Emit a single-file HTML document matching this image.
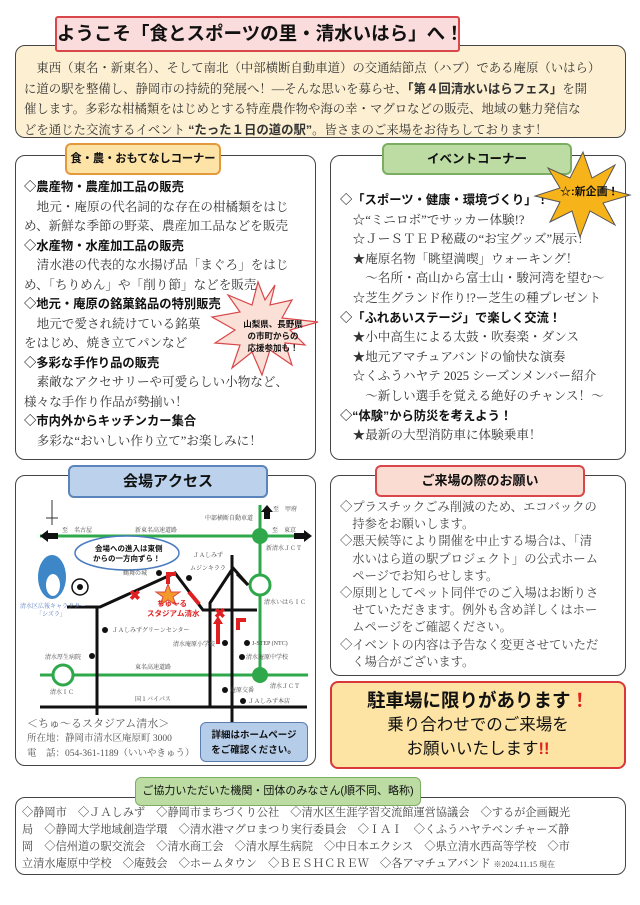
<!DOCTYPE html>
<html><head><meta charset="utf-8">
<style>
*{margin:0;padding:0;box-sizing:border-box}
body{width:640px;height:905px;background:#fff;position:relative;overflow:hidden;font-family:"Liberation Serif","Noto Serif CJK SC",serif;color:#333}
.abs{position:absolute}
.box{position:absolute;border:1.5px solid #444;border-radius:10px;background:#fff}
.tab{position:absolute;border-radius:6px;font-family:"Liberation Sans","Noto Sans CJK JP",sans-serif;font-weight:bold;text-align:center;color:#111;white-space:nowrap;overflow:hidden}
.l{position:absolute;white-space:nowrap;font-size:12.5px}
.h{font-family:"Liberation Sans","Noto Sans CJK JP",sans-serif;font-weight:bold;color:#111;font-size:12.3px}
.g{font-family:"Liberation Sans","Noto Sans CJK JP",sans-serif}
</style></head><body>

<!-- intro -->
<div class="box" style="left:15px;top:45px;width:611px;height:93px;background:#fdf0d2"></div>
<div class="tab" style="left:55px;top:16px;width:405px;height:36px;background:#fadcdc;border:2px solid #d9474a;font-size:18.5px;line-height:32px;border-radius:3px">ようこそ「食とスポーツの里・清水いはら」へ！</div>
<div class="l" style="left:24px;top:58px;line-height:20.5px;font-size:12.4px">
<div>　東西（東名・新東名）、そして南北（中部横断自動車道）の交通結節点（ハブ）である庵原（いはら）</div>
<div>に道の駅を整備し、静岡市の持続的発展へ！―そんな思いを募らせ、<b class="g">「第４回清水いはらフェス」</b>を開</div>
<div>催します。多彩な柑橘類をはじめとする特産農作物や海の幸・マグロなどの販売、地域の魅力発信な</div>
<div>どを通じた交流するイベント <b class="g">“たった１日の道の駅”</b>。皆さまのご来場をお待ちしております！</div>
</div>

<!-- left box -->
<div class="box" style="left:15px;top:155px;width:301px;height:305px"></div>
<div class="tab" style="left:65px;top:143px;width:156px;height:32px;background:#fde3a6;border:2px solid #e49a3c;font-size:11.2px;line-height:28px">食・農・おもてなしコーナー</div>
<div class="l" style="left:24px;top:178px;line-height:19.5px;font-size:12.6px">
<div class="h">◇農産物・農産加工品の販売</div>
<div>　地元・庵原の代名詞的な存在の柑橘類をはじ</div>
<div>め、新鮮な季節の野菜、農産加工品などを販売</div>
<div class="h">◇水産物・水産加工品の販売</div>
<div>　清水港の代表的な水揚げ品「まぐろ」をはじ</div>
<div>め、「ちりめん」や「削り節」などを販売</div>
<div class="h">◇地元・庵原の銘菓銘品の特別販売</div>
<div>　地元で愛され続けている銘菓</div>
<div>をはじめ、焼き立てパンなど</div>
<div class="h">◇多彩な手作り品の販売</div>
<div>　素敵なアクセサリーや可愛らしい小物など、</div>
<div>様々な手作り作品が勢揃い！</div>
<div class="h">◇市内外からキッチンカー集合</div>
<div>　多彩な“おいしい作り立て”お楽しみに！</div>
</div>

<!-- right box -->
<div class="box" style="left:330px;top:155px;width:296px;height:305px"></div>
<div class="tab" style="left:382px;top:143px;width:190px;height:32px;background:#bcdca4;border:2px solid #7cae62;font-size:12.5px;line-height:28px">イベントコーナー</div>
<div class="l" style="left:340px;top:191px;line-height:19.6px;font-size:12.6px">
<div class="h">◇「スポーツ・健康・環境づくり」！</div>
<div>　☆“ミニロボ”でサッカー体験!?</div>
<div>　☆ＪーＳＴＥＰ秘蔵の“お宝グッズ”展示！</div>
<div>　★庵原名物「眺望満喫」ウォーキング！</div>
<div>　　～名所・高山から富士山・駿河湾を望む～</div>
<div>　☆芝生グランド作り!?ー芝生の種プレゼント</div>
<div class="h">◇「ふれあいステージ」で楽しく交流！</div>
<div>　★小中高生による太鼓・吹奏楽・ダンス</div>
<div>　★地元アマチュアバンドの愉快な演奏</div>
<div>　☆くふうハヤテ 2025 シーズンメンバー紹介</div>
<div>　　～新しい選手を覚える絶好のチャンス！～</div>
<div class="h">◇“体験”から防災を考えよう！</div>
<div>　★最新の大型消防車に体験乗車！</div>
</div>

<!-- bursts -->
<svg class="abs" style="left:0;top:0" width="640" height="905">
<polygon points="583,152 592,178 615,165 603,188 630,195 603,203 615,225 590,211 580,237 572,211 550,222 560,202 535,196 560,188 548,168 570,178" fill="#f7b41a" stroke="#555" stroke-width="1"/>
<polygon points="275,285 270,305 292,300 282,318 318,322 290,330 305,345 285,343 292,365 270,350 262,375 252,352 232,368 240,345 215,343 235,330 212,317 240,312 228,295 252,305 258,282 265,300" fill="#fbe0d8" stroke="#d9474a" stroke-width="1.2"/>
</svg>
<div class="abs g" style="left:560px;top:183px;font-size:11px;font-weight:bold;color:#111">☆:新企画！</div>
<div class="abs g" style="left:238px;top:318px;width:70px;text-align:center;font-size:8.5px;font-weight:bold;line-height:12px;color:#111">山梨県、長野県<br>の市町からの<br>応援参加も！</div>

<!-- map box -->
<div class="box" style="left:15px;top:475px;width:301px;height:291px"></div>
<div class="tab" style="left:68px;top:465px;width:200px;height:33px;background:#bcd2ec;border:2px solid #5a84ba;font-size:15px;line-height:29px">会場アクセス</div>
<svg class="abs" style="left:0;top:0" width="640" height="905">
<g stroke="#2ea84a" stroke-width="3" fill="none">
<line x1="40" y1="536" x2="308" y2="536"/>
<line x1="40" y1="675" x2="308" y2="675"/>
<line x1="260" y1="505" x2="260" y2="675"/>
</g>
<circle cx="260" cy="536" r="8" fill="#2ea84a"/>
<circle cx="260" cy="675" r="8" fill="#2ea84a"/>
<circle cx="260" cy="585" r="10" fill="#fff" stroke="#2ea84a" stroke-width="3"/>
<circle cx="63" cy="675" r="10" fill="#fff" stroke="#2ea84a" stroke-width="3"/>
<g stroke="#111" stroke-width="3" fill="none">
<line x1="40" y1="707" x2="307" y2="707"/>
<polyline points="67,607 100,607 175,573 203,610 257,610"/>
<line x1="97" y1="607" x2="97" y2="715"/>
<polyline points="210,707 210,603 233,568 248,585"/>
<line x1="232" y1="555" x2="232" y2="760"/>
<line x1="248" y1="585" x2="237" y2="574"/>
</g>
<line x1="52" y1="500" x2="52" y2="525" stroke="#333"/><line x1="46" y1="518" x2="58" y2="518" stroke="#333"/>
<polygon points="40,536 48,530 48,542" fill="#111"/><rect x="48" y="533" width="10" height="6" fill="#111"/>
<polygon points="312,536 304,530 304,542" fill="#111"/><rect x="294" y="533" width="10" height="6" fill="#111"/>
<polygon points="267,505 261,512 273,512" fill="#111"/><rect x="264" y="512" width="6" height="7" fill="#111"/>
<ellipse cx="127" cy="553" rx="52" ry="17" fill="#fff" stroke="#4a7cc0" stroke-width="1.5"/>
<ellipse cx="52" cy="577" rx="14" ry="22" fill="#3d86c8"/><ellipse cx="53" cy="585" rx="7" ry="11" fill="#fff"/>
<circle cx="80" cy="587" r="8" fill="#fff" stroke="#111" stroke-width="1.5"/><circle cx="80" cy="587" r="3" fill="#111"/>
<polygon points="168,584 171,592 180,592 173,597 176,605 168,600 160,605 163,597 156,592 165,592" fill="#f39a2a" stroke="#d9474a"/>
<g fill="#e02020" font-size="14" font-weight="bold" font-family="Liberation Sans,sans-serif"><text x="129" y="600">✖</text><text x="214" y="618">✖</text></g>
<g fill="#e02020"><rect x="216" y="622" width="4" height="22"/><polygon points="213,624 218,616 223,624"/>
<rect x="192" y="590" width="4" height="16" transform="rotate(-40 194 598)"/>
<rect x="166" y="572" width="4" height="12"/><rect x="166" y="572" width="10" height="4"/>
<rect x="236" y="618" width="10" height="4"/><rect x="236" y="618" width="4" height="12"/></g>
<g fill="#111"><circle cx="159" cy="573" r="3"/><circle cx="189" cy="578" r="3"/><circle cx="105" cy="630" r="3"/><circle cx="92" cy="656" r="3"/><circle cx="225" cy="643" r="3"/><circle cx="247" cy="643" r="3"/><circle cx="242" cy="657" r="3"/><circle cx="225" cy="690" r="3"/><circle cx="243" cy="701" r="3"/></g>
<g font-size="6" fill="#444" font-family="Liberation Serif,Noto Serif CJK SC,serif">
<text x="62" y="532">至　名古屋</text><text x="135" y="532">新東名高速道路</text><text x="273" y="511">至　甲府</text><text x="205" y="520">中部横断自動車道</text>
<text x="272" y="532">至　東京</text><text x="266" y="550">新清水ＪＣＴ</text><text x="193" y="557">ＪＡしみず</text><text x="190" y="570">ムジンキララ</text>
<text x="123" y="575">鶴舞の城</text><text x="264" y="604">清水いはらＩＣ</text><text x="112" y="632">ＪＡしみずグリーンセンター</text>
<text x="173" y="646">清水庵原小学校</text><text x="252" y="645">J-STEP (NTC)</text><text x="246" y="659">清水庵原中学校</text>
<text x="45" y="659">清水厚生病院</text><text x="135" y="669">東名高速道路</text><text x="270" y="688">清水ＪＣＴ</text>
<text x="50" y="694">清水ＩＣ</text><text x="230" y="692">庵原交番</text><text x="248" y="703">ＪＡしみず本店</text><text x="135" y="701">国１バイパス</text>
</g>
<g font-size="6" fill="#5a7cc0" font-family="Liberation Serif,Noto Serif CJK SC,serif"><text x="20" y="608">清水区広報キャラクター</text><text x="36" y="616">「シズラ」</text></g>
<g font-size="7.5" fill="#e02020" font-weight="bold" font-family="Liberation Sans,Noto Sans CJK JP,sans-serif"><text x="157" y="606">ちゅ～る</text><text x="147" y="616">スタジアム清水</text></g>
<g font-size="7.5" fill="#111" font-weight="bold" font-family="Liberation Sans,Noto Sans CJK JP,sans-serif"><text x="95" y="551">会場への進入は東側</text><text x="93" y="561">からの一方向ずら！</text></g>
</svg>
<div class="abs" style="left:27px;top:717px;font-size:11px;line-height:14px;color:#555;white-space:nowrap">＜ちゅ～るスタジアム清水＞<br><span style="font-size:9.5px">所在地：静岡市清水区庵原町 3000<br>電　話：054-361-1189（いいやきゅう）</span></div>
<div class="abs g" style="left:200px;top:722px;width:108px;height:40px;background:#b6cdea;border:1.5px solid #5a7cb0;border-radius:6px;font-size:9.5px;font-weight:bold;text-align:center;line-height:15px;padding-top:5px;color:#111">詳細はホームページ<br>をご確認ください。</div>

<!-- notice -->
<div class="box" style="left:330px;top:475px;width:296px;height:201px"></div>
<div class="tab" style="left:375px;top:465px;width:210px;height:32px;background:#fadcd2;border:2px solid #d9474a;font-size:13px;line-height:28px">ご来場の際のお願い</div>
<div class="l" style="left:340px;top:499px;line-height:17.2px;font-size:12.3px;color:#444">
<div>◇プラスチックごみ削減のため、エコバックの</div>
<div>　持参をお願いします。</div>
<div>◇悪天候等により開催を中止する場合は、「清</div>
<div>　水いはら道の駅プロジェクト」の公式ホーム</div>
<div>　ページでお知らせします。</div>
<div>◇原則としてペット同伴でのご入場はお断りさ</div>
<div>　せていただきます。例外も含め詳しくはホー</div>
<div>　ムページをご確認ください。</div>
<div>◇イベントの内容は予告なく変更させていただ</div>
<div>　く場合がございます。</div>
</div>

<!-- parking -->
<div class="abs g" style="left:330px;top:681px;width:296px;height:88px;background:#fde4a4;border:2px solid #d9373a;border-radius:8px;text-align:center;color:#111">
<div style="font-size:18.5px;font-weight:bold;margin-top:6px;line-height:24px">駐車場に限りがあります<span style="color:#e02020">！</span></div>
<div style="font-size:16.5px;line-height:24px">乗り合わせでのご来場を</div>
<div style="font-size:16.5px;line-height:24px">お願いいたします<span style="color:#e02020;font-weight:bold">!!</span></div>
</div>

<!-- sponsors -->
<div class="box" style="left:15px;top:797px;width:611px;height:78px"></div>
<div class="tab" style="left:135px;top:777px;width:286px;height:29px;background:#bcdca4;border:1.5px solid #7cae62;font-size:11px;line-height:26px;font-weight:normal">ご協力いただいた機関・団体のみなさん(順不同、略称)</div>
<div class="l" style="left:22px;top:805px;line-height:17px;font-size:11.2px;color:#444">
<div>◇静岡市　◇ＪＡしみず　◇静岡市まちづくり公社　◇清水区生涯学習交流館運営協議会　◇するが企画観光</div>
<div>局　◇静岡大学地域創造学環　◇清水港マグロまつり実行委員会　◇ＩＡＩ　◇くふうハヤテベンチャーズ静</div>
<div>岡　◇信州道の駅交流会　◇清水商工会　◇清水厚生病院　◇中日本エクシス　◇県立清水西高等学校　◇市</div>
<div>立清水庵原中学校　◇庵鼓会　◇ホームタウン　◇ＢＥＳＨＣＲＥＷ　◇各アマチュアバンド <span style="font-size:8px">※2024.11.15 現在</span></div>
</div>
</body></html>
